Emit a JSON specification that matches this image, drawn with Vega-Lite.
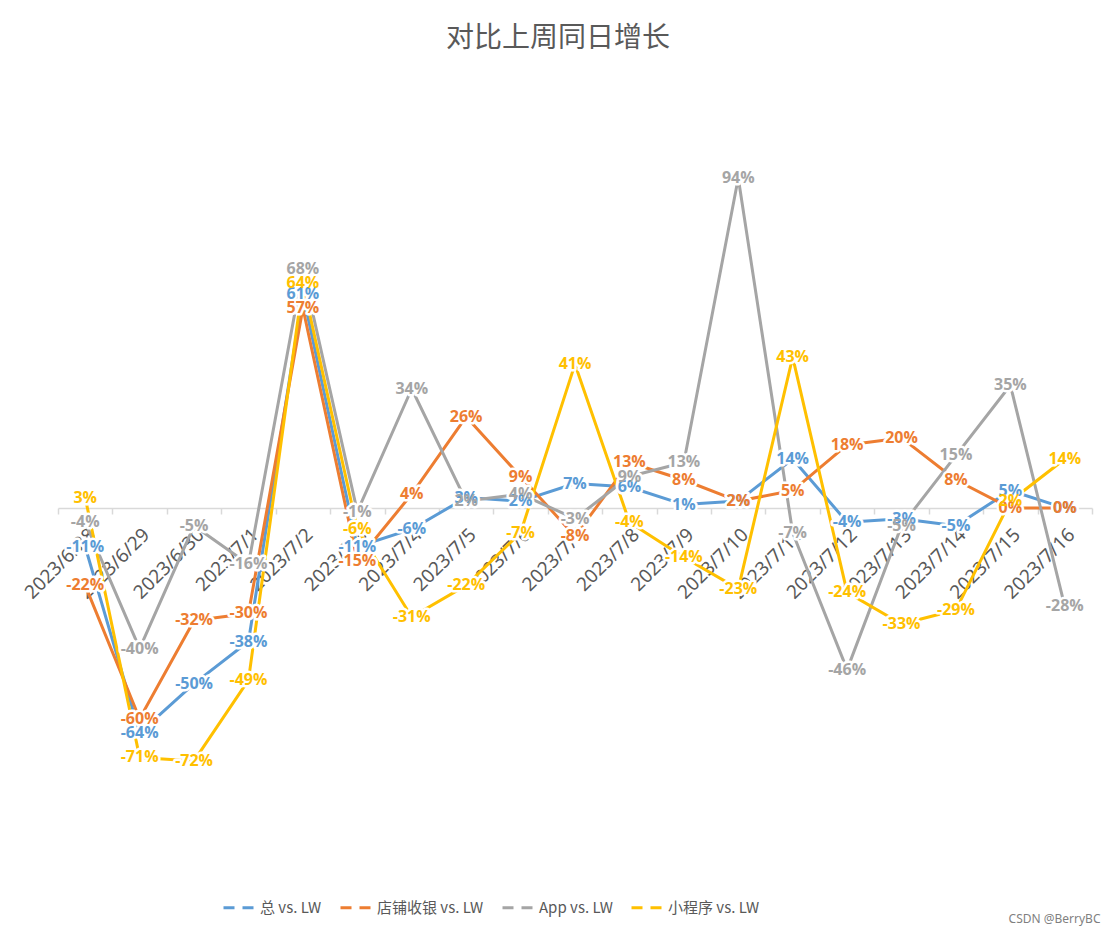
{
  "$schema": "https://vega.github.io/schema/vega-lite/v6.json",
  "width": 1034,
  "height": 632,
  "autosize": {"type": "none"},
  "padding": {"left": 58, "top": 157, "right": 24, "bottom": 145},
  "background": "white",
  "config": {
    "view": {"stroke": null},
    "locale": {"number": {"decimal": ".", "thousands": ",", "grouping": [3], "currency": ["$", ""], "minus": "-"}}
  },
  "title": {
    "text": "对比上周同日增长",
    "font": "Noto Sans CJK SC",
    "fontSize": 28,
    "fontWeight": "normal",
    "color": "#595959",
    "anchor": "middle",
    "baseline": "alphabetic",
    "offset": 82,
    "dx": -17
  },
  "data": {
    "values": [
      {"d": "2023/6/28", "s": "总 vs. LW", "v": -0.11},
      {"d": "2023/6/29", "s": "总 vs. LW", "v": -0.64},
      {"d": "2023/6/30", "s": "总 vs. LW", "v": -0.50},
      {"d": "2023/7/1", "s": "总 vs. LW", "v": -0.38},
      {"d": "2023/7/2", "s": "总 vs. LW", "v": 0.61},
      {"d": "2023/7/3", "s": "总 vs. LW", "v": -0.11},
      {"d": "2023/7/4", "s": "总 vs. LW", "v": -0.06},
      {"d": "2023/7/5", "s": "总 vs. LW", "v": 0.03},
      {"d": "2023/7/6", "s": "总 vs. LW", "v": 0.02},
      {"d": "2023/7/7", "s": "总 vs. LW", "v": 0.07},
      {"d": "2023/7/8", "s": "总 vs. LW", "v": 0.06},
      {"d": "2023/7/9", "s": "总 vs. LW", "v": 0.01},
      {"d": "2023/7/10", "s": "总 vs. LW", "v": 0.02},
      {"d": "2023/7/11", "s": "总 vs. LW", "v": 0.14},
      {"d": "2023/7/12", "s": "总 vs. LW", "v": -0.04},
      {"d": "2023/7/13", "s": "总 vs. LW", "v": -0.03},
      {"d": "2023/7/14", "s": "总 vs. LW", "v": -0.05},
      {"d": "2023/7/15", "s": "总 vs. LW", "v": 0.05},
      {"d": "2023/7/16", "s": "总 vs. LW", "v": 0.00},
      {"d": "2023/6/28", "s": "店铺收银 vs. LW", "v": -0.22},
      {"d": "2023/6/29", "s": "店铺收银 vs. LW", "v": -0.60},
      {"d": "2023/6/30", "s": "店铺收银 vs. LW", "v": -0.32},
      {"d": "2023/7/1", "s": "店铺收银 vs. LW", "v": -0.30},
      {"d": "2023/7/2", "s": "店铺收银 vs. LW", "v": 0.57},
      {"d": "2023/7/3", "s": "店铺收银 vs. LW", "v": -0.15},
      {"d": "2023/7/4", "s": "店铺收银 vs. LW", "v": 0.04},
      {"d": "2023/7/5", "s": "店铺收银 vs. LW", "v": 0.26},
      {"d": "2023/7/6", "s": "店铺收银 vs. LW", "v": 0.09},
      {"d": "2023/7/7", "s": "店铺收银 vs. LW", "v": -0.08},
      {"d": "2023/7/8", "s": "店铺收银 vs. LW", "v": 0.13},
      {"d": "2023/7/9", "s": "店铺收银 vs. LW", "v": 0.08},
      {"d": "2023/7/10", "s": "店铺收银 vs. LW", "v": 0.02},
      {"d": "2023/7/11", "s": "店铺收银 vs. LW", "v": 0.05},
      {"d": "2023/7/12", "s": "店铺收银 vs. LW", "v": 0.18},
      {"d": "2023/7/13", "s": "店铺收银 vs. LW", "v": 0.20},
      {"d": "2023/7/14", "s": "店铺收银 vs. LW", "v": 0.08},
      {"d": "2023/7/15", "s": "店铺收银 vs. LW", "v": 0.00},
      {"d": "2023/7/16", "s": "店铺收银 vs. LW", "v": 0.00},
      {"d": "2023/6/28", "s": "App vs. LW", "v": -0.04},
      {"d": "2023/6/29", "s": "App vs. LW", "v": -0.40},
      {"d": "2023/6/30", "s": "App vs. LW", "v": -0.05},
      {"d": "2023/7/1", "s": "App vs. LW", "v": -0.16},
      {"d": "2023/7/2", "s": "App vs. LW", "v": 0.68},
      {"d": "2023/7/3", "s": "App vs. LW", "v": -0.01},
      {"d": "2023/7/4", "s": "App vs. LW", "v": 0.34},
      {"d": "2023/7/5", "s": "App vs. LW", "v": 0.02},
      {"d": "2023/7/6", "s": "App vs. LW", "v": 0.04},
      {"d": "2023/7/7", "s": "App vs. LW", "v": -0.03},
      {"d": "2023/7/8", "s": "App vs. LW", "v": 0.09},
      {"d": "2023/7/9", "s": "App vs. LW", "v": 0.13},
      {"d": "2023/7/10", "s": "App vs. LW", "v": 0.94},
      {"d": "2023/7/11", "s": "App vs. LW", "v": -0.07},
      {"d": "2023/7/12", "s": "App vs. LW", "v": -0.46},
      {"d": "2023/7/13", "s": "App vs. LW", "v": -0.05},
      {"d": "2023/7/14", "s": "App vs. LW", "v": 0.15},
      {"d": "2023/7/15", "s": "App vs. LW", "v": 0.35},
      {"d": "2023/7/16", "s": "App vs. LW", "v": -0.28},
      {"d": "2023/6/28", "s": "小程序 vs. LW", "v": 0.03},
      {"d": "2023/6/29", "s": "小程序 vs. LW", "v": -0.71},
      {"d": "2023/6/30", "s": "小程序 vs. LW", "v": -0.72},
      {"d": "2023/7/1", "s": "小程序 vs. LW", "v": -0.49},
      {"d": "2023/7/2", "s": "小程序 vs. LW", "v": 0.64},
      {"d": "2023/7/3", "s": "小程序 vs. LW", "v": -0.06},
      {"d": "2023/7/4", "s": "小程序 vs. LW", "v": -0.31},
      {"d": "2023/7/5", "s": "小程序 vs. LW", "v": -0.22},
      {"d": "2023/7/6", "s": "小程序 vs. LW", "v": -0.07},
      {"d": "2023/7/7", "s": "小程序 vs. LW", "v": 0.41},
      {"d": "2023/7/8", "s": "小程序 vs. LW", "v": -0.04},
      {"d": "2023/7/9", "s": "小程序 vs. LW", "v": -0.14},
      {"d": "2023/7/10", "s": "小程序 vs. LW", "v": -0.23},
      {"d": "2023/7/11", "s": "小程序 vs. LW", "v": 0.43},
      {"d": "2023/7/12", "s": "小程序 vs. LW", "v": -0.24},
      {"d": "2023/7/13", "s": "小程序 vs. LW", "v": -0.33},
      {"d": "2023/7/14", "s": "小程序 vs. LW", "v": -0.29},
      {"d": "2023/7/15", "s": "小程序 vs. LW", "v": 0.02},
      {"d": "2023/7/16", "s": "小程序 vs. LW", "v": 0.14}
    ]
  },
  "encoding": {
    "x": {
      "field": "d",
      "type": "ordinal",
      "sort": null,
      "bandPosition": 0.5,
      "scale": {"type": "band", "paddingInner": 0, "paddingOuter": 0},
      "axis": {
        "title": null,
        "orient": "bottom",
        "offset": -281,
        "domainColor": "#d9d9d9",
        "domainWidth": 1.5,
        "tickColor": "#d9d9d9",
        "tickWidth": 1.5,
        "tickSize": 6,
        "tickBand": "extent",
        "labelAngle": -45,
        "labelFont": "Noto Sans",
        "labelFontSize": 19,
        "labelColor": "#595959",
        "labelPadding": 11,
        "labelDx": -6,
        "labelOverlap": false
      }
    },
    "y": {
      "field": "v",
      "type": "quantitative",
      "scale": {"domain": [-0.8, 1.0], "nice": false, "zero": false},
      "axis": {
        "orient": "right",
        "title": "CSDN @BerryBC",
        "labels": false,
        "ticks": false,
        "domain": false,
        "grid": false,
        "titleAngle": 0,
        "titleX": 8,
        "titleY": 761,
        "titleAlign": "right",
        "titleBaseline": "middle",
        "titleFont": "Noto Sans",
        "titleFontSize": 12,
        "titleFontWeight": "normal",
        "titleColor": "#7f7f7f"
      }
    }
  },
  "layer": [
    {
      "mark": {"type": "line", "strokeWidth": 3, "strokeJoin": "round"},
      "encoding": {
        "color": {
          "field": "s",
          "type": "nominal",
          "scale": {
            "domain": ["总 vs. LW", "店铺收银 vs. LW", "App vs. LW", "小程序 vs. LW"],
            "range": ["#5B9BD5", "#ED7D31", "#A5A5A5", "#FFC000"]
          },
          "legend": {
            "title": null,
            "orient": "none",
            "direction": "horizontal",
            "legendX": 164,
            "legendY": 734,
            "symbolType": "stroke",
            "symbolStrokeWidth": 3,
            "symbolSize": 900,
            "symbolDash": [11, 8],
            "labelFont": "Noto Sans CJK SC",
            "labelFontSize": 15,
            "labelColor": "#595959",
            "labelOffset": 5,
            "columnPadding": 12
          }
        }
      }
    },
    {
      "mark": {
        "type": "text",
        "font": "Open Sans",
        "fontSize": 16,
        "fontWeight": "bold",
        "fill": "white",
        "stroke": "white",
        "strokeWidth": 5,
        "strokeJoin": "round",
        "align": "center",
        "baseline": "middle"
      },
      "encoding": {
        "text": {"field": "v", "type": "quantitative", "format": ".0%"}
      }
    },
    {
      "mark": {
        "type": "text",
        "font": "Open Sans",
        "fontSize": 16,
        "fontWeight": "bold",
        "align": "center",
        "baseline": "middle"
      },
      "encoding": {
        "text": {"field": "v", "type": "quantitative", "format": ".0%"},
        "color": {"field": "s", "type": "nominal"}
      }
    }
  ]
}
